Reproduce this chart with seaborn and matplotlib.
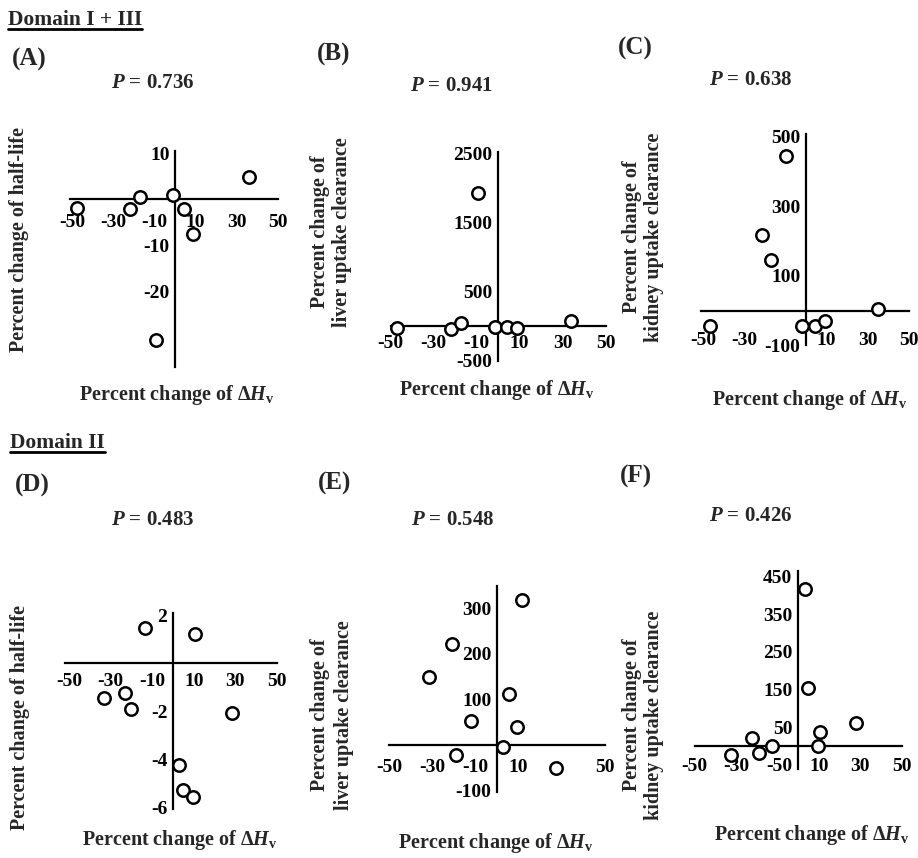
import numpy as np
import pandas as pd
import matplotlib.pyplot as plt
import seaborn as sns
from matplotlib.lines import Line2D

# values
# x = percent change of dHv for each variant
a_x = [-48, -22, -17, -1, 4.6, 9, 36, -9.5]
a_y = [-2, -2.2, 0.4, 0.9, -2.2, -7.5, 4.8, -30.6]

b_x = [-47, -22, -17, -9.5, -1.4, 4, 9, 34]
b_y = [-30, -50, 50, 1923, -10, -10, -30, 70]

c_x = [-47, -21.6, -17, -10, -1.8, 4.4, 9.3, 35]
c_y = [-45, 219, 146, 445, -45, -45, -31, 3]

d_x = [-13.3, 10.7, -33.4, -23.3, -20, 28.4, 2.7, 4.8, 9.6]
d_y = [1.45, 1.2, -1.47, -1.26, -1.93, -2.07, -4.25, -5.3, -5.57]

e_x = [-31.4, -20.8, -12.1, -19, 3, 5.6, 11.4, 9.5, 27.3]
e_y = [149, 222, 53, -22, -5, 112, 319, 39, -51]

f_x = [3.2, 4.8, 28.2, 10.5, 9.7, -22, -12.6, -19, -32.2]
f_y = [417, 153, 60, 38, 0, 22, 1, -19, -24]

p_values = ["0.736", "0.941", "0.638", "0.483", "0.548", "0.426"]
letters = ["(A)", "(B)", "(C)", "(D)", "(E)", "(F)"]
ylabels = ["Percent change of half-life",
           "Percent change of\nliver uptake clearance",
           "Percent change of\nkidney uptake clearance",
           "Percent change of half-life",
           "Percent change of\nliver uptake clearance",
           "Percent change of\nkidney uptake clearance"]
# labelled x ticks (some are hidden in the original by other labels/points)
x_labeled = [[-50, -30, -10, 10, 30, 50], [-50, -30, -10, 10, 30, 50],
             [-50, -30, 10, 30, 50], [-50, -30, -10, 10, 30, 50],
             [-50, -30, -10, 10, 50], [-50, -30, 10, 30, 50]]
y_labeled = [[10, -10, -20], [2500, 1500, 500, -500], [500, 300, 100, -100],
             [2, -2, -4, -6], [300, 200, 100, -100], [450, 350, 250, 150, 50, -50]]
y_minor_step = [5, 500, 100, 1, 50, 50]

sns.set_style("white")
plt.rcParams['font.family'] = ['Liberation Serif', 'DejaVu Serif']
plt.rcParams['font.weight'] = 'bold'
plt.rcParams['mathtext.fontset'] = 'custom'
plt.rcParams['mathtext.rm'] = 'Liberation Serif:bold'
plt.rcParams['mathtext.it'] = 'Liberation Serif:bold:italic'
plt.rcParams['mathtext.bf'] = 'Liberation Serif:bold'

W, H = 918, 858
fig = plt.figure(figsize=(W / 100, H / 100), dpi=100)

# layout in pixels: origin (ox, oy), px per unit (sx, sy), limits, text spots
layout = [
    dict(o=(175, 199), s=(2.05, 4.6), xl=(-51, 50), yl=(-36.5, 10.5), xpad=11,
         let=(12, 59), p=(153, 83), yt=(19, 239), xt=(177, 395)),
    dict(o=(498, 326), s=(2.15, 0.069), xl=(-50, 50), yl=(-500, 2520), xpad=6.5,
         let=(317, 54), p=(451, 86), yt=(331, 232), xt=(497, 390)),
    dict(o=(806, 312), s=(2.05, 0.35), xl=(-51, 50), yl=(-95, 510), xpad=15.5,
         let=(618, 48), p=(751, 80), yt=(643, 237), xt=(810, 400)),
    dict(o=(173, 663), s=(2.08, 24), xl=(-52, 50), yl=(-6.1, 2.1), xpad=7.2,
         let=(15, 485), p=(153, 520), yt=(20, 717), xt=(180, 840)),
    dict(o=(497, 745), s=(2.2, 0.455), xl=(-49, 49), yl=(-103, 350), xpad=10.2,
         let=(318, 483), p=(453, 520), yt=(332, 715), xt=(496, 843)),
    dict(o=(798, 746), s=(2.07, 0.376), xl=(-50, 50), yl=(-60, 465), xpad=9,
         let=(620, 476), p=(751, 516), yt=(643, 715), xt=(812, 835)),
]

xs = [a_x, b_x, c_x, d_x, e_x, f_x]
ys = [a_y, b_y, c_y, d_y, e_y, f_y]

for i, L in enumerate(layout):
    ox, oy = L['o']
    sx, sy = L['s']
    x0, x1 = L['xl']
    y0, y1 = L['yl']
    left = (ox + x0 * sx) / W
    width = (x1 - x0) * sx / W
    bottom = 1 - (oy - y0 * sy) / H
    height = (y1 - y0) * sy / H
    ax = fig.add_axes([left, bottom, width, height])
    ax.patch.set_alpha(0)

    df = pd.DataFrame({'x': xs[i], 'y': ys[i]})
    sns.scatterplot(data=df, x='x', y='y', ax=ax, s=80, facecolor='white',
                    edgecolor='black', linewidth=1.8, zorder=3, clip_on=False)

    ax.set_xlim(x0, x1)
    ax.set_ylim(y0, y1)
    for side in ['top', 'right']:
        ax.spines[side].set_visible(False)
    for side in ['left', 'bottom']:
        ax.spines[side].set_position(('data', 0))
        ax.spines[side].set_linewidth(1.6)
        ax.spines[side].set_color('black')

    ax.set_xticks(x_labeled[i])
    ax.set_xticklabels([str(v) for v in x_labeled[i]])
    ax.set_xticks(np.arange(-50, 51, 10), minor=True)
    ax.set_yticks(y_labeled[i])
    ax.set_yticklabels([str(v) for v in y_labeled[i]])
    st = y_minor_step[i]
    ax.set_yticks(np.arange(np.ceil(y0 / st) * st, y1 + 1e-9, st), minor=True)
    ax.tick_params(which='both', direction='in', length=3, width=1.4,
                   labelsize=14, colors='black')
    ax.tick_params(axis='x', which='major', pad=L['xpad'])
    ax.tick_params(axis='y', which='major', pad=4)
    ax.set_xlabel('')
    ax.set_ylabel('')

    fig.text(L['let'][0] / W, 1 - L['let'][1] / H, letters[i], fontsize=18,
             fontweight='bold', ha='left', va='center')
    fig.text(L['p'][0] / W, 1 - L['p'][1] / H, r"$P$ = " + p_values[i],
             fontsize=15, ha='center', va='center')
    fig.text(L['yt'][0] / W, 1 - L['yt'][1] / H, ylabels[i], fontsize=14.5,
             rotation=90, ha='center', va='center', linespacing=1.2)
    fig.text(L['xt'][0] / W, 1 - L['xt'][1] / H,
             r"Percent change of $\Delta H_\mathrm{v}$", fontsize=14.5,
             ha='center', va='center')

# underlined section headings
heads = [fig.text(8 / W, 1 - 20 / H, "Domain I + III", fontsize=15.5,
                  ha='left', va='center'),
         fig.text(10 / W, 1 - 443 / H, "Domain II", fontsize=15.5,
                  ha='left', va='center')]
fig.canvas.draw()
for t in heads:
    bb = t.get_window_extent()
    yline = (bb.y0 + 1) / H
    fig.add_artist(Line2D([bb.x0 / W, bb.x1 / W], [yline, yline],
                          color='black', linewidth=2))

fig.savefig('out.png', dpi=100)
